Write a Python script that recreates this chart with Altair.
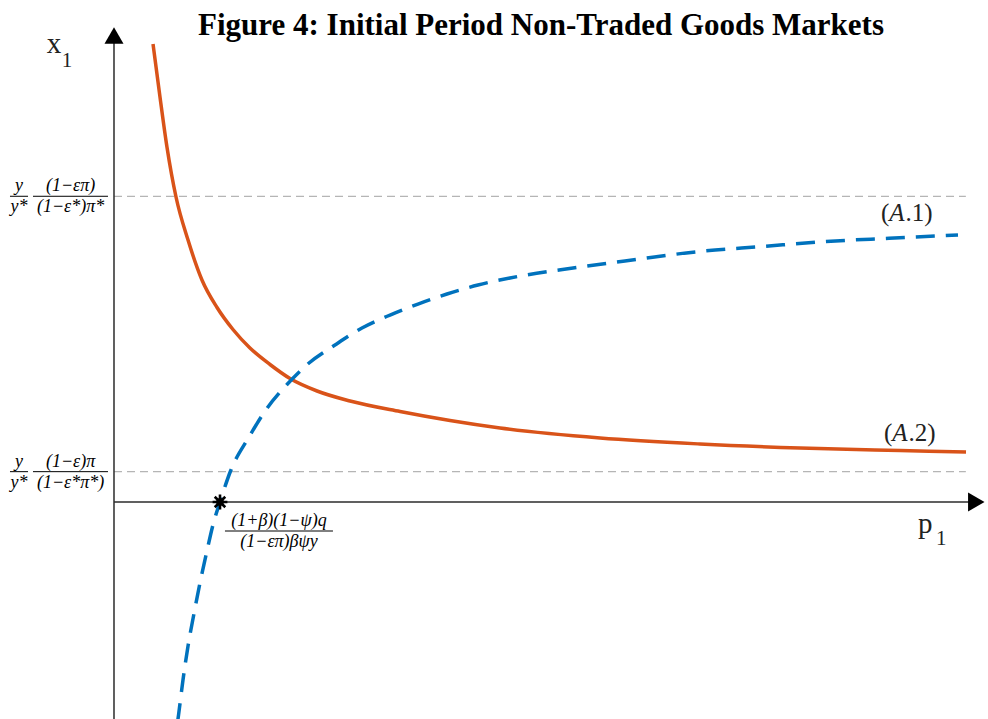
import altair as alt
import pandas as pd

TITLE = "Figure 4: Initial Period Non-Traded Goods Markets"

# ---- curve (A.1): blue dashed (p1, x1) ----
a1_p = [0.730, 0.741, 0.792, 0.850, 0.913, 0.987, 1.062, 1.142, 1.217, 1.338, 1.550,
        1.751, 1.986, 2.239, 2.537, 2.847, 3.169, 3.490, 3.823, 4.179, 4.546, 5.270,
        5.993, 6.717, 7.440, 8.175, 8.898, 9.690]
a1_x1 = [-4.641, -4.494, -3.755, -3.038, -2.405, -1.709, -1.076, -0.443, 0.000, 0.654, 1.371,
         1.962, 2.479, 2.932, 3.312, 3.671, 3.945, 4.177, 4.388, 4.578, 4.726, 4.937,
         5.116, 5.285, 5.390, 5.496, 5.563, 5.633]

# ---- curve (A.2): orange solid (p1, x1) ----
a2_p = [0.448, 0.528, 0.608, 0.712, 0.850, 1.010, 1.183, 1.366, 1.561, 1.791, 2.021,
        2.331, 2.710, 3.284, 3.858, 4.432, 5.580, 6.728, 7.876, 9.024, 9.782]
a2_x1 = [9.662, 8.544, 7.489, 6.435, 5.527, 4.684, 4.103, 3.639, 3.249, 2.901, 2.605,
         2.342, 2.131, 1.909, 1.719, 1.561, 1.350, 1.224, 1.139, 1.086, 1.055]

# ---- reference levels (gray dashed) ----
ref_levels = [6.45, 0.64]
ref_start = [0.0, 0.0]
ref_end = [9.78, 9.78]

# root of (A.1) on the p1 axis
root_p = [1.217]
root_x1 = [0.0]

# axes extents
axis_p_end = 9.90
axis_x1_end = 9.84
axis_x1_bottom = -4.80

# fraction labels
frac_center = [-1.091, -0.499, -1.091, -0.499, 1.894]
frac_level = [6.45, 6.45, 0.64, 0.64, -0.612]
frac_num = ["y", "(1−επ)", "y", "(1−ε)π", "(1+β)(1−ψ)q"]
frac_den = ["y*", "(1−ε*)π*", "y*", "(1−ε*π*)", "(1−επ)βψy"]
frac_bar0 = [-1.194, -0.930, -1.194, -0.930, 1.274]
frac_bar1 = [-0.987, -0.069, -0.987, -0.069, 2.514]

# curve labels: "(" + italic "A" + ".n)"
lab_open_p = [8.806, 8.840]
lab_A_p = [8.901, 8.936]
lab_tail_p = [9.088, 9.122]
lab_tail = [".1)", ".2)"]
lab_x1 = [6.097, 1.456]

# axis titles (main letter + subscript)
ax_main = ["x", "p"]
ax_main_p = [-0.773, 9.231]
ax_main_x1 = [9.479, -0.654]
ax_sub = ["1", "1"]
ax_sub_p = [-0.600, 9.437]
ax_sub_x1 = [9.184, -0.907]

XS = alt.Scale(domain=[-1.3088, 10.0344], nice=False, zero=False)
YS = alt.Scale(domain=[-4.578, 10.591], nice=False, zero=False)
SERIF = "Liberation Serif"


def X(f):
    return alt.X(f, type="quantitative", scale=XS, axis=None)


def Y(f):
    return alt.Y(f, type="quantitative", scale=YS, axis=None)


a1 = pd.DataFrame({"p": a1_p, "x1": a1_x1})
a2 = pd.DataFrame({"p": a2_p, "x1": a2_x1})
refs = pd.DataFrame({"lvl": ref_levels, "p0": ref_start, "p1": ref_end})
axes_df = pd.DataFrame({
    "p0": [0.0, 0.0], "p1": [0.0, axis_p_end],
    "y0": [axis_x1_bottom, 0.0], "y1": [axis_x1_end, 0.0],
})
frac = pd.DataFrame({"c": frac_center, "lvl": frac_level, "num": frac_num,
                     "den": frac_den, "b0": frac_bar0, "b1": frac_bar1})
clab = pd.DataFrame({"po": lab_open_p, "pa": lab_A_p, "pt": lab_tail_p,
                     "tail": lab_tail, "x1": lab_x1})
amain = pd.DataFrame({"t": ax_main, "p": ax_main_p, "x1": ax_main_x1})
asub = pd.DataFrame({"t": ax_sub, "p": ax_sub_p, "x1": ax_sub_x1})
root = pd.DataFrame({"p": root_p, "x1": root_x1})

ref_layer = alt.Chart(refs).mark_rule(color="#b5b5b5", strokeWidth=1.3, strokeDash=[8, 5]).encode(
    x=X("p0"), x2="p1", y=Y("lvl"))

axis_layer = alt.Chart(axes_df).mark_rule(color="#2b2b2b", strokeWidth=1.5).encode(
    x=X("p0"), x2="p1", y=Y("y0"), y2="y1")

arrow_up = alt.Chart(pd.DataFrame({"p": [0.0], "x1": [axis_x1_end]})).mark_point(
    shape="triangle-up", filled=True, color="black", opacity=1, size=361).encode(x=X("p"), y=Y("x1"))
arrow_right = alt.Chart(pd.DataFrame({"p": [axis_p_end], "x1": [0.0]})).mark_point(
    shape="triangle-right", filled=True, color="black", opacity=1, size=361).encode(x=X("p"), y=Y("x1"))

a2_layer = alt.Chart(a2).mark_line(color="#D95319", strokeWidth=3.5, interpolate="monotone").encode(
    x=X("p"), y=Y("x1"))
a1_layer = alt.Chart(a1).mark_line(color="#0072BD", strokeWidth=3.5, strokeDash=[19, 11],
                                   interpolate="monotone").encode(x=X("p"), y=Y("x1"))

star = alt.Chart(root).mark_point(
    shape="M-1,0L1,0M0,-1L0,1M-0.71,-0.71L0.71,0.71M-0.71,0.71L0.71,-0.71",
    stroke="black", strokeWidth=2.6, opacity=1, size=220, filled=False).encode(x=X("p"), y=Y("x1"))
star_core = alt.Chart(root).mark_point(shape="circle", filled=True, color="black", opacity=1,
                                       size=55).encode(x=X("p"), y=Y("x1"))

bars = alt.Chart(frac).mark_rule(color="black", strokeWidth=1).encode(x=X("b0"), x2="b1", y=Y("lvl"))
nums = alt.Chart(frac).mark_text(font=SERIF, fontSize=18, fontStyle="italic", baseline="bottom",
                                 align="center", dy=-1, color="black").encode(
    x=X("c"), y=Y("lvl"), text="num:N")
dens = alt.Chart(frac).mark_text(font=SERIF, fontSize=18, fontStyle="italic", baseline="top",
                                 align="center", dy=2, color="black").encode(
    x=X("c"), y=Y("lvl"), text="den:N")

lab_base = alt.Chart(clab)
lab_open = lab_base.mark_text(font=SERIF, fontSize=25, align="left", baseline="middle",
                              color="#222").encode(x=X("po"), y=Y("x1"), text=alt.value("("))
lab_A = lab_base.mark_text(font=SERIF, fontSize=25, fontStyle="italic", align="left",
                           baseline="middle", color="#222").encode(x=X("pa"), y=Y("x1"),
                                                                    text=alt.value("A"))
lab_tail_layer = lab_base.mark_text(font=SERIF, fontSize=25, align="left", baseline="middle",
                                    color="#222").encode(x=X("pt"), y=Y("x1"), text="tail:N")

amain_layer = alt.Chart(amain).mark_text(font=SERIF, fontSize=29, align="left", baseline="alphabetic",
                                         color="#222").encode(x=X("p"), y=Y("x1"), text="t:N")
asub_layer = alt.Chart(asub).mark_text(font=SERIF, fontSize=21, align="left", baseline="alphabetic",
                                       color="#222").encode(x=X("p"), y=Y("x1"), text="t:N")

title_layer = alt.Chart(pd.DataFrame({"t": [TITLE]})).mark_text(
    font=SERIF, fontSize=31, fontWeight="bold", align="center", baseline="alphabetic", color="black"
).encode(x=alt.value(541), y=alt.value(35), text="t:N")

chart = alt.layer(
    ref_layer, axis_layer, arrow_up, arrow_right, a2_layer, a1_layer, star, star_core,
    bars, nums, dens, lab_open, lab_A, lab_tail_layer, amain_layer, asub_layer, title_layer
).properties(
    width=988, height=719, autosize=alt.AutoSizeParams(type="none"), padding=0, background="white"
).configure_view(stroke=None)

chart.save("out.html", embed_options={"renderer": "svg", "actions": False})
